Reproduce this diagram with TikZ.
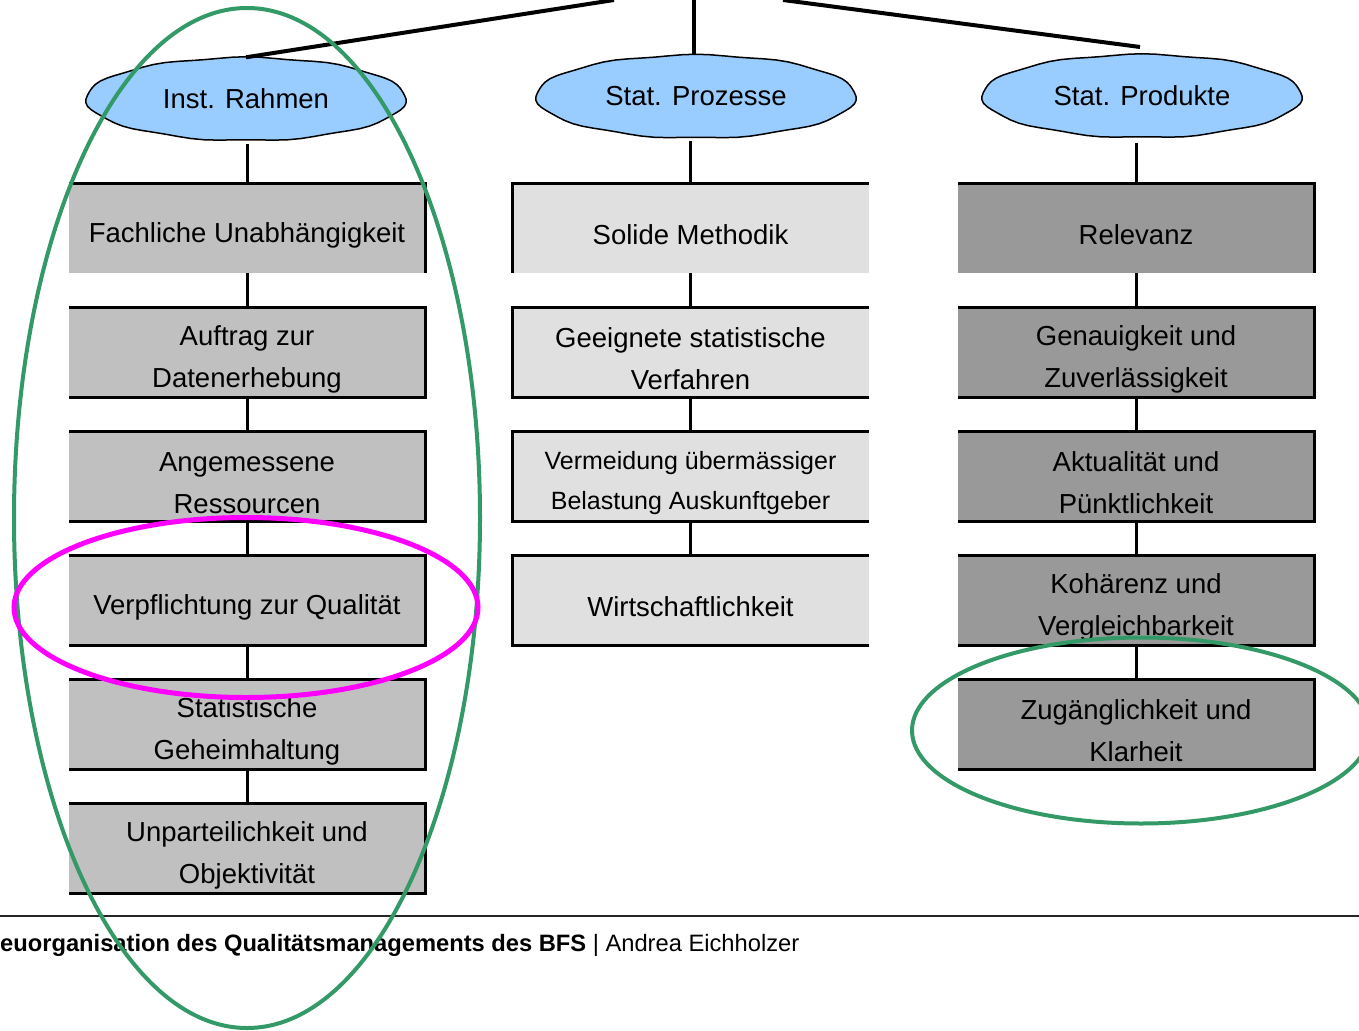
\documentclass[tikz,border=0pt]{standalone}
\usepackage{fontspec}
\setmainfont{Liberation Sans}
\usetikzlibrary{backgrounds,shapes.geometric}
\definecolor{lgray}{HTML}{C0C0C0}
\definecolor{mgray}{HTML}{E0E0E0}
\definecolor{dgray}{HTML}{999999}
\definecolor{cloudblue}{HTML}{99CCFF}
\definecolor{markgreen}{HTML}{339966}
\definecolor{markpink}{HTML}{FF00FF}
\begin{document}
\begin{tikzpicture}[x=1pt,y=-1pt,
  box/.style={rectangle, minimum width=356pt, minimum height=89pt, inner sep=0pt},
  boxtext/.style={align=center, inner sep=0pt, yshift=-6.5pt, font=\fontsize{27.5}{42}\selectfont},
  smalltext/.style={boxtext, font=\fontsize{25}{40}\selectfont},
  lbox/.style={box, fill=lgray},
  mbox/.style={box, fill=mgray},
  rbox/.style={box, fill=dgray},
  frame/.style={line width=3pt, line join=miter},
  conn/.style={line width=3pt},
  hierline/.style={line width=4pt},
  cloudnode/.style={ellipse, minimum width=320pt, minimum height=83pt, inner sep=0pt,
    font=\fontsize{27.5}{32}\selectfont},
  cloudshape/.style={fill=cloudblue, draw=black, line width=1.5pt, line join=round},
  greenring/.style={draw=markgreen, line width=4pt},
  pinkring/.style={draw=markpink, line width=5pt},
  footline/.style={line width=2pt, draw=black!85}
]
\useasboundingbox (0,0) rectangle (1359,1030);

% clouds
\node[cloudnode] (c1) at (246,99) {Inst. Rahmen};
\node[cloudnode] (c2) at (696,96.5) {Stat. Prozesse};
\node[cloudnode] (c3) at (1142,96) {Stat. Produkte};
\begin{scope}[on background layer]
\foreach \c in {c1,c2,c3}{
  \begin{scope}[shift={(\c.center)}]
    \draw[cloudshape] plot[domain=0:360, samples=73]
      ({160*cos(\x)*(1+0.006*sin(11*\x))},{41.5*sin(\x)*(1+0.018*sin(11*\x))}) -- cycle;
  \end{scope}
}
\end{scope}

% top connectors
\coordinate (t1) at (614,0);
\coordinate (t2) at (694,0);
\coordinate (t3) at (783,0);
\coordinate (e3) at (1140,47);
\draw[hierline] (t1) -- (c1.north);
\draw[hierline] (t2) -- (t2 |- c2.north);
\draw[hierline] (t3) -- (e3);

% left column
\node[lbox, label={[boxtext]center:{Fachliche Unabhängigkeit}}] (L1) at (247,228.5) {};
\node[lbox, label={[boxtext]center:{Auftrag zur\\Datenerhebung}}] (L2) at (247,352.5) {};
\node[lbox, label={[boxtext]center:{Angemessene\\Ressourcen}}] (L3) at (247,476.5) {};
\node[lbox, label={[boxtext]center:{Verpflichtung zur Qualität}}] (L4) at (247,600.5) {};
\node[lbox, label={[boxtext]center:{Statistische\\Geheimhaltung}}] (L5) at (247,724.5) {};
\node[lbox, label={[boxtext]center:{Unparteilichkeit und\\Objektivität}}] (L6) at (247,848.5) {};

% middle column
\node[mbox, label={[boxtext]center:{Solide Methodik}}] (M1) at (690.5,228.5) {};
\node[mbox, label={[boxtext]center:{Geeignete statistische\\Verfahren}}] (M2) at (690.5,352.5) {};
\node[mbox, label={[smalltext]center:{Vermeidung übermässiger\\Belastung Auskunftgeber}}] (M3) at (690.5,476.5) {};
\node[mbox, label={[boxtext]center:{Wirtschaftlichkeit}}] (M4) at (690.5,600.5) {};

% right column
\node[rbox, label={[boxtext]center:{Relevanz}}] (R1) at (1136,228.5) {};
\node[rbox, label={[boxtext]center:{Genauigkeit und\\Zuverlässigkeit}}] (R2) at (1136,352.5) {};
\node[rbox, label={[boxtext]center:{Aktualität und\\Pünktlichkeit}}] (R3) at (1136,476.5) {};
\node[rbox, label={[boxtext]center:{Kohärenz und\\Vergleichbarkeit}}] (R4) at (1136,600.5) {};
\node[rbox, label={[boxtext]center:{Zugänglichkeit und\\Klarheit}}] (R5) at (1136,724.5) {};

% box frames
\foreach \b in {L1,R1}
  \draw[frame] (\b.north west) -- (\b.north east) -- (\b.south east);
\foreach \b in {L2,L3,L4,L5,L6,R2,R3,R4,R5}
  \draw[frame] (\b.north west) -- (\b.north east) -- (\b.south east) -- (\b.south west);
\draw[frame] (M1.north east) -- (M1.north west) -- (M1.south west);
\foreach \b in {M2,M3,M4}
  \draw[frame] (\b.north east) -- (\b.north west) -- (\b.south west) -- (\b.south east);

% vertical connectors
\draw[conn] ([yshift=-3pt]L1.north |- c1.south) -- (L1.north);
\draw[conn] ([yshift=-3pt]M1.north |- c2.south) -- (M1.north);
\draw[conn] ([yshift=-5pt]R1.north |- c3.south) -- (R1.north);
\draw[conn] (L1.south) -- (L2.north);
\draw[conn] (L2.south) -- (L3.north);
\draw[conn] (L3.south) -- (L4.north);
\draw[conn] (L4.south) -- (L5.north);
\draw[conn] (L5.south) -- (L6.north);
\draw[conn] (M1.south) -- (M2.north);
\draw[conn] (M2.south) -- (M3.north);
\draw[conn] (M3.south) -- (M4.north);
\draw[conn] (R1.south) -- (R2.north);
\draw[conn] (R2.south) -- (R3.north);
\draw[conn] (R3.south) -- (R4.north);
\draw[conn] (R4.south) -- (R5.north);

% footer
\coordinate (f1) at (0,916);
\coordinate (f2) at (1359,916);
\draw[footline] (f1) -- (f2);
\node[anchor=base west, inner sep=0pt, font=\fontsize{23.7}{28}\selectfont] (foot) at (0,951)
  {\textbf{euorganisation des Qualitätsmanagements des BFS} | Andrea Eichholzer};

% highlight rings
\draw[greenring] (247,518) ellipse [x radius=233pt, y radius=510pt];
\draw[pinkring] (246,607.5) ellipse [x radius=232pt, y radius=90pt];
\draw[greenring] (1141,730.5) ellipse [x radius=229pt, y radius=93pt];
\end{tikzpicture}
\end{document}
